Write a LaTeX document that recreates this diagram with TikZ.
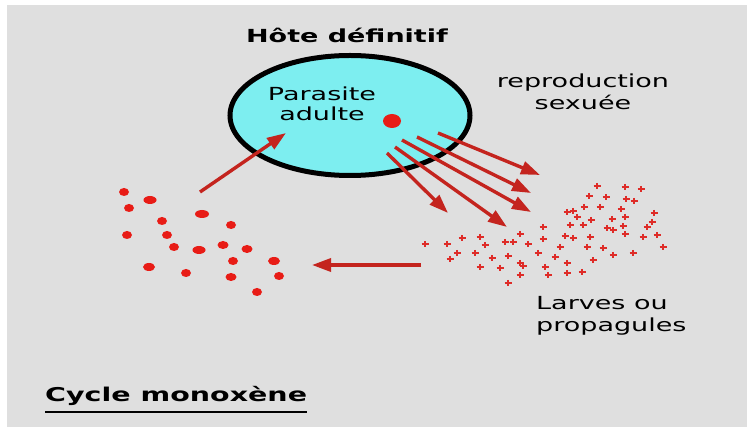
\documentclass[tikz,border=0pt]{standalone}
\usepackage{fontspec}
\setmainfont[FakeStretch=1.5]{DejaVu Sans}
\usepackage{xcolor}
\definecolor{bggray}{RGB}{223,223,223}
\definecolor{hostcyan}{RGB}{125,238,240}
\definecolor{eggred}{RGB}{232,28,22}
\definecolor{arrowred}{RGB}{196,36,30}
\definecolor{larvared}{RGB}{222,44,40}
\usepackage{tikz}
\usetikzlibrary{arrows.meta,shapes.geometric,positioning}

\begin{document}
\begin{tikzpicture}[x=1pt, y=-1pt, >={Triangle[length=19pt,width=13pt]},
    txt/.style={font=\fontsize{18}{22}\selectfont, inner sep=0pt, text=black},
    flow/.style={->, arrowred, line width=3.4pt}]
    \useasboundingbox (0,0) rectangle (747,427);
    \fill[white] (0,0) rectangle (747,427);
    \fill[bggray] (7,5) rectangle (747,427);

    % Definitive host
    \node[draw=black, fill=hostcyan, ellipse, line width=5pt, minimum width=240pt,
          minimum height=120pt, inner sep=0pt] (host) at (350,115.5) {};
    \fill[eggred] (392,121) ellipse [x radius=9pt, y radius=7pt];

    \node[txt, font=\fontsize{18}{22}\selectfont\bfseries, anchor=base] (hote) at (347,43) {Hôte définitif};
    \node[txt, align=center, font=\fontsize{18}{20}\selectfont, anchor=north] (adult) at (322,87) {Parasite\\adulte};
    \node[txt, align=center, anchor=north] (repro) at (583,74) {reproduction\\sexuée};
    \node[txt, align=left, anchor=north west] (larv) at (536,296) {Larves ou\\propagules};
    \node[txt, font=\fontsize{19}{22}\selectfont\bfseries, anchor=base west] (cycle) at (45,402) {Cycle monoxène};
    \draw[line width=2pt] ([yshift=-5.5pt]cycle.south west) -- ([yshift=-5.5pt]cycle.south east);

    % Eggs shed by the adult
    \foreach \sx/\sy/\ex/\ey [count=\i] in {387/153/448/213, 395/147/507/227,
        402/140/531/212, 417/137/531/193, 438/133/540/175}
    {
        \coordinate (s\i) at (\sx,\sy);
        \coordinate (e\i) at (\ex,\ey);
        \draw[flow] (s\i) -- (e\i);
    }

    \coordinate (larvae) at (421,265);
    \coordinate (eggs) at (312,265);
    \draw[flow] (larvae) -- (eggs);

    \coordinate (cluster) at (200,192);
    \coordinate (entry) at (286,133);
    \draw[flow] (cluster) -- (entry);

    % Infective stages
    \foreach \x/\y/\r in {124/192/5pt, 150/200/6.5pt, 129/208/5pt, 202/214/7pt,
        162/221/5pt, 231/225/5pt, 127/235/5pt, 167/235/5pt, 174/247/5pt,
        199/250/6.5pt, 223/245/5.5pt, 247/249/5.5pt, 233/261/5pt, 274/261/6pt,
        149/267/6pt, 186/273/5pt, 231/277/5.5pt, 279/276/5pt, 257/292/5pt}
        \fill[eggred] (\x,\y) ellipse [x radius=\r, y radius=4pt];

    % Larvae
    \foreach \x/\y in {597/186, 625/187, 641/189, 589/196, 606/197, 626/199,
        634/201, 584/207, 600/207, 621/209, 567/212, 573/211, 577/217, 591/220,
        612/219, 625/217, 654/213, 543/227, 570/225, 583/225, 607/228, 613/230,
        623/226, 647/227, 652/222, 565/236, 573/238, 590/237, 625/234, 643/237,
        657/235, 462/238, 480/237, 520/234, 505/242, 513/242, 543/239, 425/244,
        447/244, 485/245, 528/244, 560/247, 587/247, 603/248, 663/247, 457/253,
        475/253, 508/256, 538/253, 555/257, 613/255, 633/253, 450/259, 492/258,
        520/263, 523/266, 567/263, 593/260, 480/267, 500/268, 545/267, 548/275,
        567/273, 582/272, 520/275, 508/283}
        \draw[larvared, line width=1.5pt] (\x-3.5,\y) -- (\x+3.5,\y) (\x,\y-3) -- (\x,\y+3);
\end{tikzpicture}
\end{document}
